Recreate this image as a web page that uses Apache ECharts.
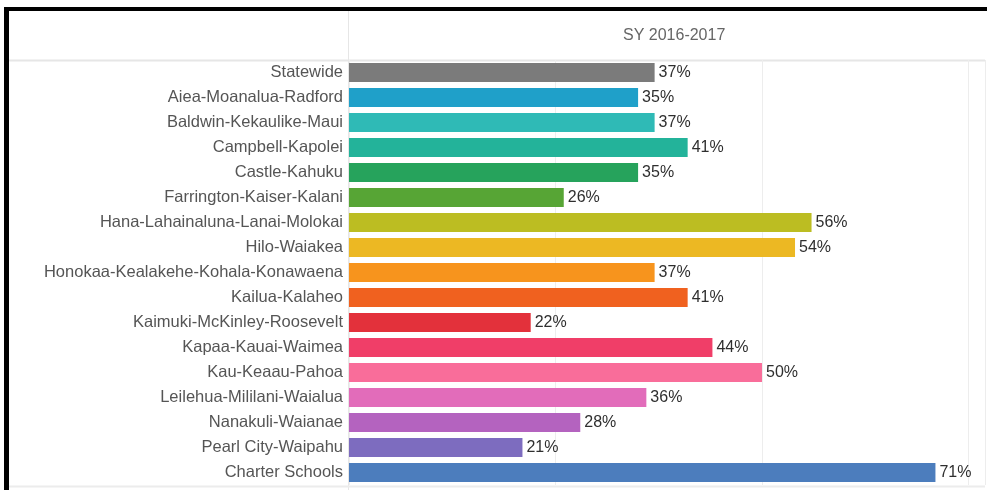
<!DOCTYPE html>
<html>
<head>
<meta charset="utf-8">
<script src="https://cdn.jsdelivr.net/npm/echarts@6/dist/echarts.min.js"></script>
<style>
  html, body { margin: 0; padding: 0; background: #fff; }
  #chart { width: 987px; height: 490px; }
</style>
</head>
<body>
<div id="chart"></div>
<script>
// complex areas, top to bottom
const areas = [
  'Statewide', 'Aiea-Moanalua-Radford', 'Baldwin-Kekaulike-Maui', 'Campbell-Kapolei',
  'Castle-Kahuku', 'Farrington-Kaiser-Kalani', 'Hana-Lahainaluna-Lanai-Molokai',
  'Hilo-Waiakea', 'Honokaa-Kealakehe-Kohala-Konawaena', 'Kailua-Kalaheo',
  'Kaimuki-McKinley-Roosevelt', 'Kapaa-Kauai-Waimea', 'Kau-Keaau-Pahoa',
  'Leilehua-Mililani-Waialua', 'Nanakuli-Waianae', 'Pearl City-Waipahu', 'Charter Schools'
]
const pct = [37, 35, 37, 41, 35, 26, 56, 54, 37, 41, 22, 44, 50, 36, 28, 21, 71]
const barColors = [
  '#7b7b7b', '#1fa0c9', '#2fbab6', '#23b39a', '#26a35c', '#57a535', '#bcbd22',
  '#ecb823', '#f7941d', '#f0611f', '#e3313b', '#f03e68', '#f96d9a', '#e26cba',
  '#b463bf', '#7d6cbf', '#4c7dbd'
]
const columnHeader = 'SY 2016-2017'

const chart = echarts.init(document.getElementById('chart'))
const font = '"Liberation Sans", Arial, sans-serif'

const option = {
  animation: false,
  backgroundColor: '#fff',
  grid: { left: 349, top: 60, width: 636, height: 425, containLabel: false },
  xAxis: {
    type: 'value',
    min: 0,
    max: 77,
    interval: 25,
    axisLine: { show: false },
    axisTick: { show: false },
    axisLabel: { show: false },
    splitLine: { lineStyle: { color: '#ededed', width: 1 } }
  },
  yAxis: {
    type: 'category',
    inverse: true,
    data: areas,
    axisLine: { show: false },
    axisTick: { show: false },
    axisLabel: { color: '#555', fontFamily: font, fontSize: 16.5, margin: 6, padding: [2, 0, 0, 0] }
  },
  series: [{
    type: 'bar',
    barCategoryGap: '24%',
    data: pct.map((v, i) => ({ value: v, itemStyle: { color: barColors[i] } })),
    label: {
      show: true,
      position: 'right',
      distance: 4,
      color: '#2f2f2f',
      fontFamily: font,
      fontSize: 16,
      padding: [3, 0, 0, 0],
      formatter: p => p.value + '%'
    }
  }],
  graphic: [
    // header/pane dividers
    { type: 'line', shape: { x1: 348.5, y1: 11, x2: 348.5, y2: 490 }, style: { stroke: '#e6e6e6', lineWidth: 1 }, silent: true },
    { type: 'line', shape: { x1: 9, y1: 60.5, x2: 985, y2: 60.5 }, style: { stroke: '#e6e6e6', lineWidth: 2 }, silent: true },
    { type: 'line', shape: { x1: 9, y1: 486.5, x2: 985, y2: 486.5 }, style: { stroke: '#ececec', lineWidth: 2 }, silent: true },
    {
      type: 'text', left: 623, top: 28,
      style: { text: columnHeader, fill: '#666', font: '16px ' + font }
    },
    // black frame
    { type: 'rect', shape: { x: 4, y: 7, width: 983, height: 4 }, style: { fill: '#000' }, silent: true },
    { type: 'rect', shape: { x: 4, y: 7, width: 5, height: 483 }, style: { fill: '#000' }, silent: true }
  ]
}

chart.setOption(option)
</script>
</body>
</html>
